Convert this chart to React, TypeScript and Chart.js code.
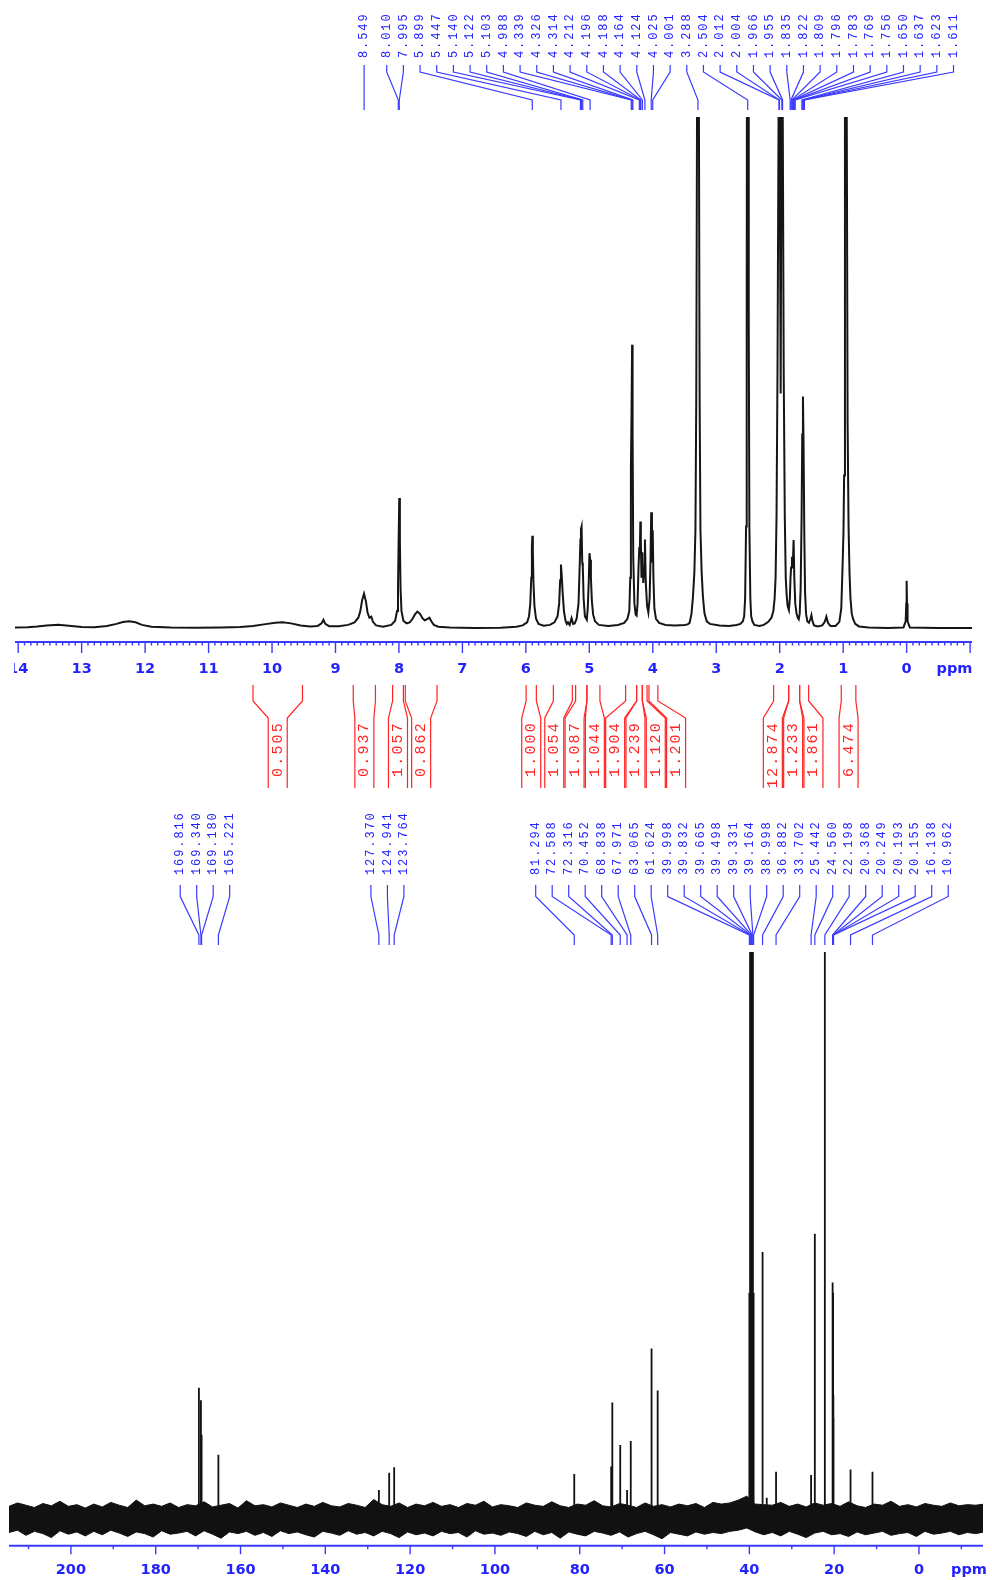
import React, { useEffect, useRef } from "react";
import { Chart, registerables } from "chart.js";

Chart.register(...registerables);

// ---------------- 1H spectrum (ppm, relative intensity; 100 = top of plot) ----------------
const h1Spectrum: [number, number][] = [
  [14.05, 0.3], [13.85, 0.35], [13.7, 0.5], [13.55, 0.7], [13.37, 0.85], [13.2, 0.65], [13.0, 0.4],
  [12.8, 0.35], [12.6, 0.6], [12.45, 1.0], [12.35, 1.35], [12.25, 1.5], [12.15, 1.3], [12.05, 0.8],
  [11.9, 0.45], [11.6, 0.3], [11.2, 0.25], [10.8, 0.3], [10.5, 0.4], [10.3, 0.6], [10.1, 0.95],
  [9.95, 1.2], [9.83, 1.3], [9.7, 1.1], [9.55, 0.7], [9.4, 0.5], [9.28, 0.6], [9.22, 1.1], [9.19, 1.8],
  [9.16, 1.0], [9.1, 0.55], [8.95, 0.55], [8.8, 0.8], [8.7, 1.3], [8.64, 2.2], [8.61, 3.4], [8.58, 5.6],
  [8.55, 6.9], [8.52, 5.4], [8.495, 3.2], [8.465, 2.2], [8.435, 2.4], [8.41, 1.4], [8.36, 0.7],
  [8.25, 0.45], [8.12, 0.8], [8.06, 1.6], [8.03, 3.5], [8.015, 8], [8.005, 17], [7.995, 25.6],
  [7.985, 17], [7.975, 8], [7.96, 3.5], [7.93, 1.6], [7.88, 1.1], [7.83, 1.3], [7.79, 1.9], [7.75, 2.8],
  [7.71, 3.4], [7.67, 3.0], [7.63, 2.1], [7.595, 1.7], [7.56, 1.9], [7.52, 2.2], [7.49, 1.5], [7.45, 0.8],
  [7.38, 0.45], [7.2, 0.3], [6.8, 0.2], [6.4, 0.25], [6.15, 0.45], [6.05, 0.7], [5.98, 1.3], [5.95, 2.5],
  [5.93, 5], [5.915, 10], [5.905, 16], [5.898, 18.2], [5.89, 15], [5.88, 9], [5.865, 4.5], [5.84, 2.0],
  [5.8, 1.0], [5.72, 0.65], [5.62, 0.8], [5.55, 1.3], [5.5, 2.5], [5.475, 5], [5.46, 9.5], [5.447, 12.6],
  [5.435, 10.5], [5.42, 7], [5.4, 3.5], [5.375, 1.6], [5.355, 1.0], [5.337, 1.3], [5.31, 0.8], [5.28, 2.1],
  [5.255, 1.0], [5.23, 1.1], [5.2, 2.0], [5.17, 5], [5.15, 13], [5.14, 17.5], [5.132, 19.5], [5.122, 20],
  [5.112, 13], [5.103, 12.2], [5.09, 6], [5.07, 2.5], [5.04, 1.8], [5.025, 4], [5.01, 9], [4.998, 14.8],
  [4.985, 13.5], [4.975, 10], [4.96, 5.5], [4.94, 2.8], [4.91, 1.5], [4.85, 0.8], [4.7, 0.6], [4.55, 0.8],
  [4.45, 1.2], [4.4, 2.0], [4.37, 3.5], [4.355, 10], [4.345, 31], [4.335, 42], [4.326, 55.5], [4.318, 38],
  [4.308, 14], [4.29, 5], [4.27, 2.8], [4.255, 2.6], [4.24, 5], [4.225, 12], [4.212, 16], [4.204, 15],
  [4.196, 21], [4.188, 17], [4.178, 10], [4.164, 15], [4.15, 9], [4.135, 12], [4.124, 17.5], [4.11, 9],
  [4.09, 4.5], [4.07, 3.2], [4.05, 6], [4.035, 14], [4.025, 22.8], [4.013, 13], [4.001, 19.3], [3.99, 10],
  [3.975, 4], [3.95, 2], [3.9, 1.2], [3.8, 0.8], [3.65, 0.7], [3.5, 0.8], [3.45, 0.9], [3.42, 1.2],
  [3.39, 3.0], [3.367, 6.3], [3.345, 11], [3.328, 19.3], [3.315, 45], [3.303, 100], [3.296, 250],
  [3.288, 400], [3.28, 250], [3.273, 100], [3.262, 45], [3.249, 19.3], [3.23, 11], [3.21, 6.3],
  [3.185, 3], [3.15, 1.5], [3.1, 1.0], [2.95, 0.7], [2.8, 0.6], [2.68, 0.8], [2.62, 1.0], [2.58, 1.5],
  [2.56, 2.5], [2.545, 6], [2.53, 20], [2.52, 60], [2.514, 150], [2.504, 400], [2.494, 150], [2.488, 60],
  [2.478, 20], [2.463, 6], [2.45, 2.5], [2.43, 1.5], [2.4, 0.8], [2.32, 0.6], [2.25, 0.8], [2.18, 1.4],
  [2.13, 2.2], [2.1, 3.5], [2.08, 6], [2.065, 10], [2.05, 22], [2.035, 50], [2.018, 100], [2.01, 250],
  [2.004, 400], [1.998, 100], [1.985, 46], [1.972, 100], [1.966, 400], [1.96, 250], [1.952, 100],
  [1.937, 50], [1.92, 22], [1.905, 10], [1.89, 6.5], [1.875, 4.5], [1.855, 3.7], [1.84, 6], [1.83, 10],
  [1.82, 12], [1.807, 14.1], [1.795, 12], [1.781, 17.4], [1.77, 10], [1.755, 5], [1.735, 3], [1.715, 2.2],
  [1.7, 1.9], [1.685, 3], [1.67, 8], [1.655, 22], [1.645, 38], [1.634, 45.4], [1.624, 36], [1.612, 18],
  [1.6, 7], [1.585, 3], [1.565, 1.5], [1.54, 1.2], [1.515, 2.0], [1.5, 2.7], [1.485, 1.6], [1.46, 0.7],
  [1.4, 0.5], [1.33, 0.7], [1.29, 1.4], [1.265, 2.4], [1.24, 1.2], [1.2, 0.6], [1.12, 0.6], [1.06, 1.4],
  [1.03, 4], [1.01, 12], [0.995, 19], [0.985, 30], [0.972, 100], [0.965, 300], [0.955, 400],
  [0.946, 300], [0.941, 100], [0.93, 40], [0.915, 20], [0.9, 11], [0.885, 6], [0.865, 3], [0.84, 1.8],
  [0.81, 1.0], [0.75, 0.5], [0.6, 0.3], [0.3, 0.2], [0.05, 0.3], [0.015, 1.5], [0.006, 5], [0.0, 9.4],
  [-0.006, 5], [-0.015, 1.5], [-0.05, 0.3], [-0.5, 0.2], [-1.03, 0.2],
];

const h1PeakLabels = [
  8.549, 8.01, 7.995, 5.899, 5.447, 5.14, 5.122, 5.103, 4.988, 4.339, 4.326, 4.314, 4.212, 4.196,
  4.188, 4.164, 4.124, 4.025, 4.001, 3.288, 2.504, 2.012, 2.004, 1.966, 1.955, 1.835, 1.822, 1.809,
  1.796, 1.783, 1.769, 1.756, 1.65, 1.637, 1.623, 1.611,
];
const h1TickLabels = [14, 13, 12, 11, 10, 9, 8, 7, 6, 5, 4, 3, 2, 1, 0];

const integralFrom = [10.3, 8.72, 8.1, 7.9, 5.996, 5.567, 5.216, 5.038, 4.428, 4.255, 4.165, 4.06, 2.096, 1.859, 1.686, 1.03];
const integralTo = [9.52, 8.37, 7.93, 7.4, 5.835, 5.268, 5.038, 4.833, 4.255, 4.165, 4.09, 3.92, 1.859, 1.686, 1.544, 0.8];
const integralValues = [0.505, 0.937, 1.057, 0.862, 1.0, 1.054, 1.087, 1.044, 1.904, 1.239, 1.12, 1.201, 12.874, 1.233, 1.861, 6.474];

// ---------------- 13C spectrum ----------------
const c13Shift = [
  169.816, 169.34, 169.18, 165.221, 127.37, 124.941, 123.764, 81.294, 72.588, 72.316, 70.452, 68.838,
  67.971, 63.065, 61.624, 39.998, 39.832, 39.665, 39.498, 39.331, 39.164, 38.998, 36.882, 33.702,
  25.442, 24.56, 22.198, 20.368, 20.249, 20.193, 20.155, 16.138, 10.962,
];
const c13Height = [
  23.3, 21.1, 15, 11.5, 5.3, 8.3, 9.3, 8.1, 9.4, 20.7, 13.2, 5.3,
  13.9, 30.2, 22.8, 40, 110, 150, 160, 150, 110, 40, 47.2, 8.5,
  7.9, 50.4, 130, 41.8, 40, 22, 18, 8.9, 8.5,
];
const c13MinorShift = [35.9];
const c13MinorHeight = [3.9];

const c13NoiseStart = 214.6;
const c13NoiseStep = 2;
const c13NoiseTop = [
  2.4, 3.0, 2.6, 2.2, 2.9, 2.5, 3.3, 2.4, 2.7, 2.1,
  2.8, 2.3, 3.1, 2.6, 2.2, 3.5, 2.5, 2.8, 2.4, 3.0,
  2.2, 2.7, 2.5, 3.2, 2.3, 2.6, 2.9, 2.1, 3.4, 2.5,
  2.7, 2.3, 3.0, 2.6, 2.2, 2.8, 2.4, 3.1, 2.5, 2.3,
  2.9, 2.6, 2.2, 3.6, 2.7, 2.4, 3.0, 2.2, 2.8, 2.5,
  3.1, 2.4, 2.7, 2.2, 2.9, 2.6, 3.3, 2.3, 2.7, 2.5,
  2.2, 3.0, 2.6, 2.4, 3.2, 2.5, 2.2, 2.8, 2.6, 3.4,
  2.5, 2.3, 2.9, 2.6, 2.2, 3.0, 2.4, 2.7, 2.3, 2.8,
  2.5, 2.9, 2.2, 3.1, 2.8, 3.0, 3.5, 4.2, 2.8, 2.7,
  2.6, 3.1, 2.4, 2.8, 2.3, 3.0, 2.6, 2.9, 2.4, 3.2,
  2.5, 2.2, 2.8, 2.6, 3.3, 2.4, 2.7, 2.3, 2.9, 2.6,
  2.4, 3.0, 2.5, 2.7, 2.6, 2.8,
];
const c13NoiseBottom = [
  -2.2, -1.8, -2.7, -2.0, -2.4, -3.1, -1.9, -2.5, -2.1, -2.8,
  -2.0, -2.6, -1.8, -2.3, -2.9, -2.1, -2.4, -3.0, -1.9, -2.5,
  -2.3, -2.0, -2.8, -1.9, -2.5, -3.2, -2.1, -2.4, -2.0, -2.7,
  -2.2, -2.9, -1.9, -2.4, -2.1, -2.6, -3.0, -2.0, -2.3, -2.7,
  -1.9, -2.5, -2.2, -2.8, -2.0, -2.4, -3.1, -2.1, -2.6, -2.3,
  -2.8, -2.0, -2.4, -2.2, -3.0, -1.9, -2.5, -2.3, -2.7, -2.1,
  -2.4, -2.9, -2.0, -2.6, -2.2, -3.2, -2.1, -2.5, -2.8, -2.0,
  -2.3, -2.7, -2.1, -3.0, -2.4, -2.0, -2.6, -3.3, -2.2, -2.5,
  -2.8, -2.1, -2.5, -2.2, -2.4, -2.0, -1.8, -1.4, -2.1, -2.6,
  -2.2, -2.8, -2.0, -2.5, -3.1, -2.3, -2.0, -2.6, -2.4, -2.9,
  -2.1, -2.6, -2.3, -2.0, -2.7, -2.4, -2.2, -2.9, -2.0, -2.5,
  -2.3, -2.0, -2.6, -2.2, -2.4, -2.1,
];
const c13TickLabels = [200, 180, 160, 140, 120, 100, 80, 60, 40, 20, 0];

// ---------------- styling ----------------
const BLUE_TEXT = "rgb(34,34,255)";
const BLUE_LINE = "rgb(58,58,255)";
const RED = "rgb(255,36,36)";

function spread(ideal: number[], gap: number, lo: number, hi: number): number[] {
  const order = ideal.map((_, i) => i).sort((a, b) => ideal[a] - ideal[b]);
  const clusters: { idx: number[]; first: number }[] = [];
  for (const i of order) {
    clusters.push({ idx: [i], first: ideal[i] });
    for (;;) {
      const c = clusters[clusters.length - 1];
      const n = c.idx.length;
      let f = c.idx.reduce((a, k, j) => a + ideal[k] - j * gap, 0) / n;
      f = Math.min(Math.max(f, lo), hi - (n - 1) * gap);
      c.first = f;
      if (clusters.length > 1) {
        const p = clusters[clusters.length - 2];
        if (p.first + p.idx.length * gap > f + 0.01) {
          p.idx.push(...c.idx);
          clusters.pop();
          continue;
        }
      }
      break;
    }
  }
  const out: number[] = new Array(ideal.length);
  clusters.forEach((c) => c.idx.forEach((k, j) => (out[k] = c.first + j * gap)));
  return out;
}

type AxisSpec = {
  y: number; major: number; minor: number; majorLen: number; minorLen: number;
  labels: number[]; labelY: number; ppmDx: number;
};

function drawAxis(chart: any, a: AxisSpec) {
  const ctx: CanvasRenderingContext2D = chart.ctx;
  const xs = chart.scales.x;
  const { left, right } = chart.chartArea;
  ctx.save();
  ctx.strokeStyle = BLUE_LINE;
  ctx.lineWidth = 2;
  ctx.beginPath();
  ctx.moveTo(left, a.y);
  ctx.lineTo(right, a.y);
  ctx.stroke();
  ctx.lineWidth = 1.4;
  const lo = Math.min(xs.min, xs.max);
  const hi = Math.max(xs.min, xs.max);
  const k0 = Math.ceil(lo / a.minor - 1e-6);
  const k1 = Math.floor(hi / a.minor + 1e-6);
  for (let k = k0; k <= k1; k++) {
    const v = k * a.minor;
    const r = v / a.major;
    const isMajor = Math.abs(r - Math.round(r)) < 1e-6;
    const x = xs.getPixelForValue(v);
    ctx.beginPath();
    ctx.moveTo(x, a.y);
    ctx.lineTo(x, a.y + (isMajor ? a.majorLen : a.minorLen));
    ctx.stroke();
  }
  ctx.fillStyle = BLUE_TEXT;
  ctx.font = 'bold 14.5px "DejaVu Sans"';
  ctx.textAlign = "center";
  ctx.textBaseline = "alphabetic";
  for (const v of a.labels) ctx.fillText(String(v), xs.getPixelForValue(v), a.labelY);
  ctx.fillText("ppm", right + a.ppmDx, a.labelY);
  ctx.restore();
}

function drawPeakLabels(
  chart: any, shifts: number[], gap: number, lo: number, hi: number,
  textY: number, y0: number, y1: number, y2: number, y3: number,
) {
  const ctx: CanvasRenderingContext2D = chart.ctx;
  const xs = chart.scales.x;
  const ideal = shifts.map((s) => xs.getPixelForValue(s));
  const pos = spread(ideal, gap, lo, hi);
  ctx.save();
  ctx.strokeStyle = BLUE_LINE;
  ctx.lineWidth = 1.2;
  shifts.forEach((_, i) => {
    ctx.beginPath();
    ctx.moveTo(pos[i], y0);
    ctx.lineTo(pos[i], y1);
    ctx.lineTo(ideal[i], y2);
    ctx.lineTo(ideal[i], y3);
    ctx.stroke();
  });
  ctx.fillStyle = BLUE_TEXT;
  ctx.font = '12px "Liberation Mono"';
  (ctx as any).letterSpacing = "1.9px";
  ctx.textAlign = "left";
  ctx.textBaseline = "middle";
  shifts.forEach((s, i) => {
    ctx.save();
    ctx.translate(pos[i], textY);
    ctx.rotate(-Math.PI / 2);
    ctx.fillText(s.toFixed(3), 0, 0);
    ctx.restore();
  });
  ctx.restore();
}

function drawIntegrals(chart: any) {
  const ctx: CanvasRenderingContext2D = chart.ctx;
  const xs = chart.scales.x;
  const xa = integralFrom.map((v) => xs.getPixelForValue(v));
  const xb = integralTo.map((v) => xs.getPixelForValue(v));
  const centers = xa.map((a, i) => (a + xb[i]) / 2);
  const pos = spread(centers, 20.3, 0, 2000);
  const half = 9.5;
  const yTop = 685, yB1 = 701, yB2 = 718, yBot = 788;
  ctx.save();
  ctx.strokeStyle = RED;
  ctx.lineWidth = 1.2;
  integralValues.forEach((_, i) => {
    ctx.beginPath();
    ctx.moveTo(xa[i], yTop);
    ctx.lineTo(xa[i], yB1);
    ctx.lineTo(pos[i] - half, yB2);
    ctx.lineTo(pos[i] - half, yBot);
    ctx.moveTo(xb[i], yTop);
    ctx.lineTo(xb[i], yB1);
    ctx.lineTo(pos[i] + half, yB2);
    ctx.lineTo(pos[i] + half, yBot);
    ctx.stroke();
  });
  ctx.fillStyle = RED;
  ctx.font = '15px "Liberation Mono"';
  (ctx as any).letterSpacing = "2.2px";
  ctx.textAlign = "right";
  ctx.textBaseline = "middle";
  integralValues.forEach((v, i) => {
    ctx.save();
    ctx.translate(pos[i], 721);
    ctx.rotate(-Math.PI / 2);
    ctx.fillText(v.toFixed(3), 0, 0);
    ctx.restore();
  });
  ctx.restore();
}

const h1Overlay = {
  id: "h1Overlay",
  afterDraw(chart: any) {
    drawAxis(chart, {
      y: 642, major: 1, minor: 0.1, majorLen: 11, minorLen: 3.5,
      labels: h1TickLabels, labelY: 672.5, ppmDx: -17.5,
    });
    drawPeakLabels(chart, h1PeakLabels, 16.67, 4, 939.5, 58, 65, 72, 100, 110);
    drawIntegrals(chart);
  },
};

const c13Overlay = {
  id: "c13Overlay",
  afterDraw(chart: any) {
    drawAxis(chart, {
      y: 755.7, major: 20, minor: 10, majorLen: 8.5, minorLen: 3.5,
      labels: c13TickLabels, labelY: 783.5, ppmDx: -14,
    });
    drawPeakLabels(chart, c13Shift, 16.5, 4, 975, 85, 95, 106.5, 145, 155);
  },
};

export default function App() {
  const hRef = useRef<HTMLCanvasElement>(null);
  const cRef = useRef<HTMLCanvasElement>(null);

  useEffect(() => {
    const hChart = new Chart(hRef.current as HTMLCanvasElement, {
      type: "line",
      data: {
        datasets: [
          {
            data: h1Spectrum.map(([x, y]) => ({ x, y })),
            borderColor: "#151515",
            borderWidth: 2,
            pointRadius: 0,
            tension: 0,
            fill: false,
          },
        ],
      },
      options: {
        responsive: false,
        animation: false,
        events: [],
        layout: { padding: { left: 1, right: 20, top: 117, bottom: 148 }, autoPadding: false },
        plugins: { legend: { display: false }, tooltip: { enabled: false } },
        scales: {
          x: { type: "linear", reverse: true, min: -1.03, max: 14.05, display: false },
          y: { type: "linear", min: -2.54, max: 100, display: false },
        },
      } as any,
      plugins: [h1Overlay],
    });

    const sticks: any[] = [];
    const addStick = (x: number, h: number) => {
      sticks.push({ x, y: 0 }, { x, y: h }, { x, y: null });
    };
    c13Shift.forEach((s, i) => addStick(s, c13Height[i]));
    c13MinorShift.forEach((s, i) => addStick(s, c13MinorHeight[i]));

    const cChart = new Chart(cRef.current as HTMLCanvasElement, {
      type: "line",
      data: {
        datasets: [
          {
            data: sticks,
            borderColor: "#111",
            borderWidth: 1.8,
            pointRadius: 0,
            spanGaps: false,
            fill: false,
          },
          {
            data: c13NoiseTop.map((y, i) => ({ x: c13NoiseStart - i * c13NoiseStep, y })),
            borderColor: "#111",
            backgroundColor: "#111",
            borderWidth: 1,
            pointRadius: 0,
            fill: "+1",
          },
          {
            data: c13NoiseBottom.map((y, i) => ({ x: c13NoiseStart - i * c13NoiseStep, y })),
            borderColor: "#111",
            borderWidth: 1,
            pointRadius: 0,
            fill: false,
          },
        ],
      },
      options: {
        responsive: false,
        animation: false,
        events: [],
        layout: { padding: { left: 9, right: 9, top: 162, bottom: 34 }, autoPadding: false },
        plugins: { legend: { display: false }, tooltip: { enabled: false } },
        scales: {
          x: { type: "linear", reverse: true, min: -15.1, max: 214.6, display: false },
          y: { type: "linear", min: -4.58, max: 100, display: false },
        },
      } as any,
      plugins: [c13Overlay],
    });

    return () => {
      hChart.destroy();
      cChart.destroy();
    };
  }, []);

  return (
    <div style={{ position: "absolute", left: 0, top: 0, width: 992, height: 1580, background: "#fff", overflow: "hidden" }}>
      <canvas ref={hRef} width={978} height={790} style={{ position: "absolute", left: 14, top: 0, width: 978, height: 790 }} />
      <canvas ref={cRef} width={992} height={790} style={{ position: "absolute", left: 0, top: 790, width: 992, height: 790 }} />
    </div>
  );
}
